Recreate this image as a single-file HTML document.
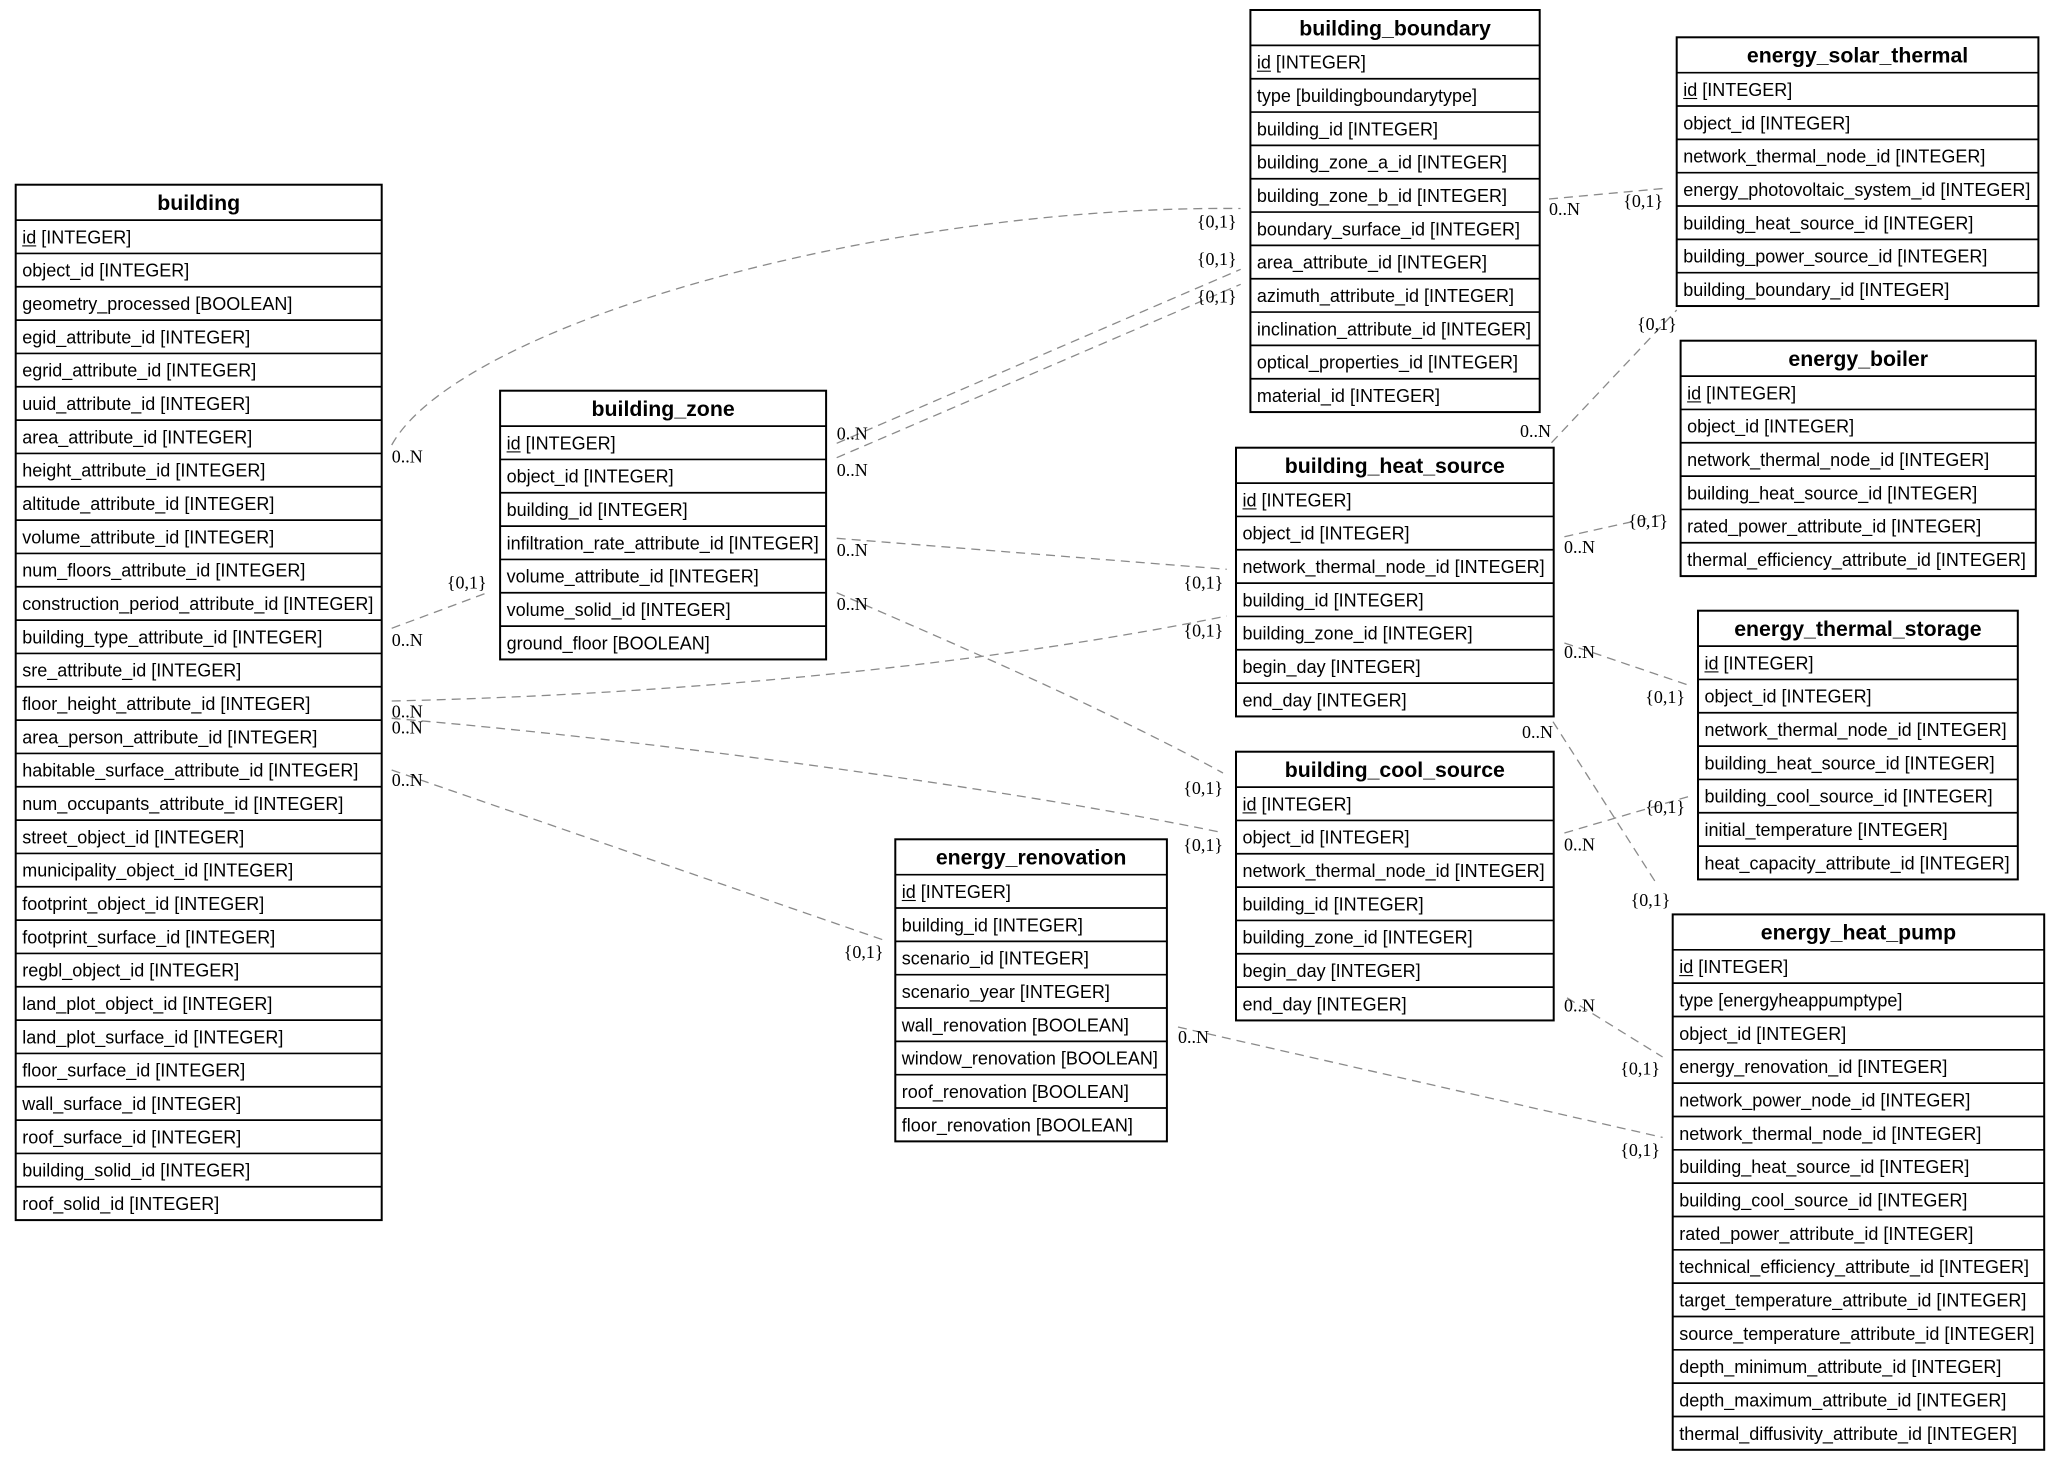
<!DOCTYPE html>
<html><head><meta charset="utf-8"><style>
html,body{margin:0;padding:0;background:#fff;}
svg{display:block;}
.t{font-family:"Liberation Sans",Arial,sans-serif;font-size:18px;fill:#000;}
.h{font-family:"Liberation Sans",Arial,sans-serif;font-size:21.3px;font-weight:bold;fill:#000;text-anchor:middle;}
.l{font-family:"Liberation Serif","Times New Roman",serif;font-size:18px;fill:#000;}
.e{text-anchor:end;}
.box{fill:#fff;stroke:#000;stroke-width:2;}
.sep{stroke:#000;stroke-width:1.7;fill:none;}
.ul{stroke:#000;stroke-width:1.1;}
.c{fill:none;stroke:#8a8a8a;stroke-width:1.3;stroke-dasharray:9,6;}
</style></head><body>
<svg width="2059" height="1461" viewBox="0 0 2059 1461" xmlns="http://www.w3.org/2000/svg">

<!-- connectors -->
<path class="c" d="M391.7,445 C458,325 880,205 1240.5,208.5"/>
<path class="c" d="M836.7,443.3 L1240.7,269.3"/>
<path class="c" d="M836.7,457.7 L1240.7,284.3"/>
<path class="c" d="M391.7,628.3 L490,591.7"/>
<path class="c" d="M836.7,538.3 L1226.7,569.3"/>
<path class="c" d="M836.7,592.7 C950,642 1100,706 1223,773"/>
<path class="c" d="M391.7,701 C700,694 1000,662 1226.7,616"/>
<path class="c" d="M391.7,718.3 C650,740 1000,787 1223,832.7"/>
<path class="c" d="M391.7,770 L883.5,940"/>
<path class="c" d="M1549,199 L1668.5,188"/>
<path class="c" d="M1551.5,442.7 L1676.7,310"/>
<path class="c" d="M1564.4,536.7 L1662.6,515"/>
<path class="c" d="M1564.4,643 L1688,685"/>
<path class="c" d="M1553,721.7 L1658,886"/>
<path class="c" d="M1564.4,833 L1688,796.7"/>
<path class="c" d="M1567,997.8 L1662.6,1057"/>
<path class="c" d="M1178,1027 L1662.6,1137.4"/>

<!-- connector labels -->
<text class="l" x="391.7" y="462.5">0..N</text>
<text class="l e" x="1236.7" y="227.7">{0,1}</text>
<text class="l" x="836.7" y="439.5">0..N</text>
<text class="l e" x="1236.7" y="265">{0,1}</text>
<text class="l" x="836.7" y="476">0..N</text>
<text class="l e" x="1236.7" y="302.7">{0,1}</text>
<text class="l" x="391.7" y="646">0..N</text>
<text class="l e" x="486.7" y="588.3">{0,1}</text>
<text class="l" x="836.7" y="556">0..N</text>
<text class="l e" x="1223.3" y="588.3">{0,1}</text>
<text class="l" x="836.7" y="610">0..N</text>
<text class="l e" x="1223" y="794">{0,1}</text>
<text class="l" x="391.7" y="717.7">0..N</text>
<text class="l e" x="1223.3" y="636.7">{0,1}</text>
<text class="l" x="391.7" y="733.3">0..N</text>
<text class="l e" x="1223" y="851">{0,1}</text>
<text class="l" x="391.7" y="786">0..N</text>
<text class="l e" x="883.5" y="958">{0,1}</text>
<text class="l" x="1549" y="215">0..N</text>
<text class="l e" x="1663" y="207">{0,1}</text>
<text class="l e" x="1551" y="437">0..N</text>
<text class="l" x="1637" y="330">{0,1}</text>
<text class="l" x="1564" y="553">0..N</text>
<text class="l e" x="1668" y="527">{0,1}</text>
<text class="l" x="1564" y="658">0..N</text>
<text class="l e" x="1685" y="703">{0,1}</text>
<text class="l e" x="1553" y="738">0..N</text>
<text class="l" x="1630.6" y="906">{0,1}</text>
<text class="l" x="1564" y="850.7">0..N</text>
<text class="l e" x="1685" y="813">{0,1}</text>
<text class="l" x="1564" y="1011.5">0..N</text>
<text class="l e" x="1660" y="1074.4">{0,1}</text>
<text class="l" x="1178" y="1043">0..N</text>
<text class="l e" x="1660" y="1156">{0,1}</text>

<!-- building -->
<g transform="translate(15.7,184.7)">
<rect class="box" x="0" y="0" width="366" height="1035.4"/>
<path class="sep" d="M0,35.4H366M0,68.73H366M0,102.07H366M0,135.4H366M0,168.73H366M0,202.07H366M0,235.4H366M0,268.73H366M0,302.07H366M0,335.4H366M0,368.73H366M0,402.07H366M0,435.4H366M0,468.73H366M0,502.07H366M0,535.4H366M0,568.73H366M0,602.07H366M0,635.4H366M0,668.73H366M0,702.07H366M0,735.4H366M0,768.73H366M0,802.07H366M0,835.4H366M0,868.73H366M0,902.07H366M0,935.4H366M0,968.73H366M0,1002.07H366"/>
<text class="h" x="183" y="25.3">building</text>
<text class="t" x="6.5" y="58.7">id [INTEGER]</text><line class="ul" x1="6.5" x2="20.5" y1="61.2" y2="61.2"/>
<text class="t" x="6.5" y="92.03">object_id [INTEGER]</text>
<text class="t" x="6.5" y="125.37">geometry_processed [BOOLEAN]</text>
<text class="t" x="6.5" y="158.7">egid_attribute_id [INTEGER]</text>
<text class="t" x="6.5" y="192.03">egrid_attribute_id [INTEGER]</text>
<text class="t" x="6.5" y="225.37">uuid_attribute_id [INTEGER]</text>
<text class="t" x="6.5" y="258.7">area_attribute_id [INTEGER]</text>
<text class="t" x="6.5" y="292.03">height_attribute_id [INTEGER]</text>
<text class="t" x="6.5" y="325.37">altitude_attribute_id [INTEGER]</text>
<text class="t" x="6.5" y="358.7">volume_attribute_id [INTEGER]</text>
<text class="t" x="6.5" y="392.03">num_floors_attribute_id [INTEGER]</text>
<text class="t" x="6.5" y="425.37">construction_period_attribute_id [INTEGER]</text>
<text class="t" x="6.5" y="458.7">building_type_attribute_id [INTEGER]</text>
<text class="t" x="6.5" y="492.03">sre_attribute_id [INTEGER]</text>
<text class="t" x="6.5" y="525.37">floor_height_attribute_id [INTEGER]</text>
<text class="t" x="6.5" y="558.7">area_person_attribute_id [INTEGER]</text>
<text class="t" x="6.5" y="592.03">habitable_surface_attribute_id [INTEGER]</text>
<text class="t" x="6.5" y="625.37">num_occupants_attribute_id [INTEGER]</text>
<text class="t" x="6.5" y="658.7">street_object_id [INTEGER]</text>
<text class="t" x="6.5" y="692.03">municipality_object_id [INTEGER]</text>
<text class="t" x="6.5" y="725.37">footprint_object_id [INTEGER]</text>
<text class="t" x="6.5" y="758.7">footprint_surface_id [INTEGER]</text>
<text class="t" x="6.5" y="792.03">regbl_object_id [INTEGER]</text>
<text class="t" x="6.5" y="825.37">land_plot_object_id [INTEGER]</text>
<text class="t" x="6.5" y="858.7">land_plot_surface_id [INTEGER]</text>
<text class="t" x="6.5" y="892.03">floor_surface_id [INTEGER]</text>
<text class="t" x="6.5" y="925.37">wall_surface_id [INTEGER]</text>
<text class="t" x="6.5" y="958.7">roof_surface_id [INTEGER]</text>
<text class="t" x="6.5" y="992.03">building_solid_id [INTEGER]</text>
<text class="t" x="6.5" y="1025.37">roof_solid_id [INTEGER]</text>
</g>

<!-- building_zone -->
<g transform="translate(500.1,390.7)">
<rect class="box" x="0" y="0" width="326" height="268.73"/>
<path class="sep" d="M0,35.4H326M0,68.73H326M0,102.07H326M0,135.4H326M0,168.73H326M0,202.07H326M0,235.4H326"/>
<text class="h" x="163" y="25.3">building_zone</text>
<text class="t" x="6.5" y="58.7">id [INTEGER]</text><line class="ul" x1="6.5" x2="20.5" y1="61.2" y2="61.2"/>
<text class="t" x="6.5" y="92.03">object_id [INTEGER]</text>
<text class="t" x="6.5" y="125.37">building_id [INTEGER]</text>
<text class="t" x="6.5" y="158.7">infiltration_rate_attribute_id [INTEGER]</text>
<text class="t" x="6.5" y="192.03">volume_attribute_id [INTEGER]</text>
<text class="t" x="6.5" y="225.37">volume_solid_id [INTEGER]</text>
<text class="t" x="6.5" y="258.7">ground_floor [BOOLEAN]</text>
</g>

<!-- building_boundary -->
<g transform="translate(1250.4,10)">
<rect class="box" x="0" y="0" width="289.3" height="402.07"/>
<path class="sep" d="M0,35.4H289.3M0,68.73H289.3M0,102.07H289.3M0,135.4H289.3M0,168.73H289.3M0,202.07H289.3M0,235.4H289.3M0,268.73H289.3M0,302.07H289.3M0,335.4H289.3M0,368.73H289.3"/>
<text class="h" x="144.65" y="25.3">building_boundary</text>
<text class="t" x="6.5" y="58.7">id [INTEGER]</text><line class="ul" x1="6.5" x2="20.5" y1="61.2" y2="61.2"/>
<text class="t" x="6.5" y="92.03">type [buildingboundarytype]</text>
<text class="t" x="6.5" y="125.37">building_id [INTEGER]</text>
<text class="t" x="6.5" y="158.7">building_zone_a_id [INTEGER]</text>
<text class="t" x="6.5" y="192.03">building_zone_b_id [INTEGER]</text>
<text class="t" x="6.5" y="225.37">boundary_surface_id [INTEGER]</text>
<text class="t" x="6.5" y="258.7">area_attribute_id [INTEGER]</text>
<text class="t" x="6.5" y="292.03">azimuth_attribute_id [INTEGER]</text>
<text class="t" x="6.5" y="325.37">inclination_attribute_id [INTEGER]</text>
<text class="t" x="6.5" y="358.7">optical_properties_id [INTEGER]</text>
<text class="t" x="6.5" y="392.03">material_id [INTEGER]</text>
</g>

<!-- energy_solar_thermal -->
<g transform="translate(1676.7,37.3)">
<rect class="box" x="0" y="0" width="361.7" height="268.73"/>
<path class="sep" d="M0,35.4H361.7M0,68.73H361.7M0,102.07H361.7M0,135.4H361.7M0,168.73H361.7M0,202.07H361.7M0,235.4H361.7"/>
<text class="h" x="180.85" y="25.3">energy_solar_thermal</text>
<text class="t" x="6.5" y="58.7">id [INTEGER]</text><line class="ul" x1="6.5" x2="20.5" y1="61.2" y2="61.2"/>
<text class="t" x="6.5" y="92.03">object_id [INTEGER]</text>
<text class="t" x="6.5" y="125.37">network_thermal_node_id [INTEGER]</text>
<text class="t" x="6.5" y="158.7">energy_photovoltaic_system_id [INTEGER]</text>
<text class="t" x="6.5" y="192.03">building_heat_source_id [INTEGER]</text>
<text class="t" x="6.5" y="225.37">building_power_source_id [INTEGER]</text>
<text class="t" x="6.5" y="258.7">building_boundary_id [INTEGER]</text>
</g>

<!-- energy_boiler -->
<g transform="translate(1680.6,340.7)">
<rect class="box" x="0" y="0" width="355.2" height="235.4"/>
<path class="sep" d="M0,35.4H355.2M0,68.73H355.2M0,102.07H355.2M0,135.4H355.2M0,168.73H355.2M0,202.07H355.2"/>
<text class="h" x="177.6" y="25.3">energy_boiler</text>
<text class="t" x="6.5" y="58.7">id [INTEGER]</text><line class="ul" x1="6.5" x2="20.5" y1="61.2" y2="61.2"/>
<text class="t" x="6.5" y="92.03">object_id [INTEGER]</text>
<text class="t" x="6.5" y="125.37">network_thermal_node_id [INTEGER]</text>
<text class="t" x="6.5" y="158.7">building_heat_source_id [INTEGER]</text>
<text class="t" x="6.5" y="192.03">rated_power_attribute_id [INTEGER]</text>
<text class="t" x="6.5" y="225.37">thermal_efficiency_attribute_id [INTEGER]</text>
</g>

<!-- building_heat_source -->
<g transform="translate(1236,447.7)">
<rect class="box" x="0" y="0" width="317.7" height="268.73"/>
<path class="sep" d="M0,35.4H317.7M0,68.73H317.7M0,102.07H317.7M0,135.4H317.7M0,168.73H317.7M0,202.07H317.7M0,235.4H317.7"/>
<text class="h" x="158.85" y="25.3">building_heat_source</text>
<text class="t" x="6.5" y="58.7">id [INTEGER]</text><line class="ul" x1="6.5" x2="20.5" y1="61.2" y2="61.2"/>
<text class="t" x="6.5" y="92.03">object_id [INTEGER]</text>
<text class="t" x="6.5" y="125.37">network_thermal_node_id [INTEGER]</text>
<text class="t" x="6.5" y="158.7">building_id [INTEGER]</text>
<text class="t" x="6.5" y="192.03">building_zone_id [INTEGER]</text>
<text class="t" x="6.5" y="225.37">begin_day [INTEGER]</text>
<text class="t" x="6.5" y="258.7">end_day [INTEGER]</text>
</g>

<!-- building_cool_source -->
<g transform="translate(1236,751.7)">
<rect class="box" x="0" y="0" width="317.7" height="268.73"/>
<path class="sep" d="M0,35.4H317.7M0,68.73H317.7M0,102.07H317.7M0,135.4H317.7M0,168.73H317.7M0,202.07H317.7M0,235.4H317.7"/>
<text class="h" x="158.85" y="25.3">building_cool_source</text>
<text class="t" x="6.5" y="58.7">id [INTEGER]</text><line class="ul" x1="6.5" x2="20.5" y1="61.2" y2="61.2"/>
<text class="t" x="6.5" y="92.03">object_id [INTEGER]</text>
<text class="t" x="6.5" y="125.37">network_thermal_node_id [INTEGER]</text>
<text class="t" x="6.5" y="158.7">building_id [INTEGER]</text>
<text class="t" x="6.5" y="192.03">building_zone_id [INTEGER]</text>
<text class="t" x="6.5" y="225.37">begin_day [INTEGER]</text>
<text class="t" x="6.5" y="258.7">end_day [INTEGER]</text>
</g>

<!-- energy_thermal_storage -->
<g transform="translate(1698,610.7)">
<rect class="box" x="0" y="0" width="319.8" height="268.73"/>
<path class="sep" d="M0,35.4H319.8M0,68.73H319.8M0,102.07H319.8M0,135.4H319.8M0,168.73H319.8M0,202.07H319.8M0,235.4H319.8"/>
<text class="h" x="159.9" y="25.3">energy_thermal_storage</text>
<text class="t" x="6.5" y="58.7">id [INTEGER]</text><line class="ul" x1="6.5" x2="20.5" y1="61.2" y2="61.2"/>
<text class="t" x="6.5" y="92.03">object_id [INTEGER]</text>
<text class="t" x="6.5" y="125.37">network_thermal_node_id [INTEGER]</text>
<text class="t" x="6.5" y="158.7">building_heat_source_id [INTEGER]</text>
<text class="t" x="6.5" y="192.03">building_cool_source_id [INTEGER]</text>
<text class="t" x="6.5" y="225.37">initial_temperature [INTEGER]</text>
<text class="t" x="6.5" y="258.7">heat_capacity_attribute_id [INTEGER]</text>
</g>

<!-- energy_renovation -->
<g transform="translate(895.3,839.3)">
<rect class="box" x="0" y="0" width="271.6" height="302.07"/>
<path class="sep" d="M0,35.4H271.6M0,68.73H271.6M0,102.07H271.6M0,135.4H271.6M0,168.73H271.6M0,202.07H271.6M0,235.4H271.6M0,268.73H271.6"/>
<text class="h" x="135.8" y="25.3">energy_renovation</text>
<text class="t" x="6.5" y="58.7">id [INTEGER]</text><line class="ul" x1="6.5" x2="20.5" y1="61.2" y2="61.2"/>
<text class="t" x="6.5" y="92.03">building_id [INTEGER]</text>
<text class="t" x="6.5" y="125.37">scenario_id [INTEGER]</text>
<text class="t" x="6.5" y="158.7">scenario_year [INTEGER]</text>
<text class="t" x="6.5" y="192.03">wall_renovation [BOOLEAN]</text>
<text class="t" x="6.5" y="225.37">window_renovation [BOOLEAN]</text>
<text class="t" x="6.5" y="258.7">roof_renovation [BOOLEAN]</text>
<text class="t" x="6.5" y="292.03">floor_renovation [BOOLEAN]</text>
</g>

<!-- energy_heat_pump -->
<g transform="translate(1672.7,914.4)">
<rect class="box" x="0" y="0" width="371.5" height="535.4"/>
<path class="sep" d="M0,35.4H371.5M0,68.73H371.5M0,102.07H371.5M0,135.4H371.5M0,168.73H371.5M0,202.07H371.5M0,235.4H371.5M0,268.73H371.5M0,302.07H371.5M0,335.4H371.5M0,368.73H371.5M0,402.07H371.5M0,435.4H371.5M0,468.73H371.5M0,502.07H371.5"/>
<text class="h" x="185.75" y="25.3">energy_heat_pump</text>
<text class="t" x="6.5" y="58.7">id [INTEGER]</text><line class="ul" x1="6.5" x2="20.5" y1="61.2" y2="61.2"/>
<text class="t" x="6.5" y="92.03">type [energyheappumptype]</text>
<text class="t" x="6.5" y="125.37">object_id [INTEGER]</text>
<text class="t" x="6.5" y="158.7">energy_renovation_id [INTEGER]</text>
<text class="t" x="6.5" y="192.03">network_power_node_id [INTEGER]</text>
<text class="t" x="6.5" y="225.37">network_thermal_node_id [INTEGER]</text>
<text class="t" x="6.5" y="258.7">building_heat_source_id [INTEGER]</text>
<text class="t" x="6.5" y="292.03">building_cool_source_id [INTEGER]</text>
<text class="t" x="6.5" y="325.37">rated_power_attribute_id [INTEGER]</text>
<text class="t" x="6.5" y="358.7">technical_efficiency_attribute_id [INTEGER]</text>
<text class="t" x="6.5" y="392.03">target_temperature_attribute_id [INTEGER]</text>
<text class="t" x="6.5" y="425.37">source_temperature_attribute_id [INTEGER]</text>
<text class="t" x="6.5" y="458.7">depth_minimum_attribute_id [INTEGER]</text>
<text class="t" x="6.5" y="492.03">depth_maximum_attribute_id [INTEGER]</text>
<text class="t" x="6.5" y="525.37">thermal_diffusivity_attribute_id [INTEGER]</text>
</g>

</svg>
</body></html>
